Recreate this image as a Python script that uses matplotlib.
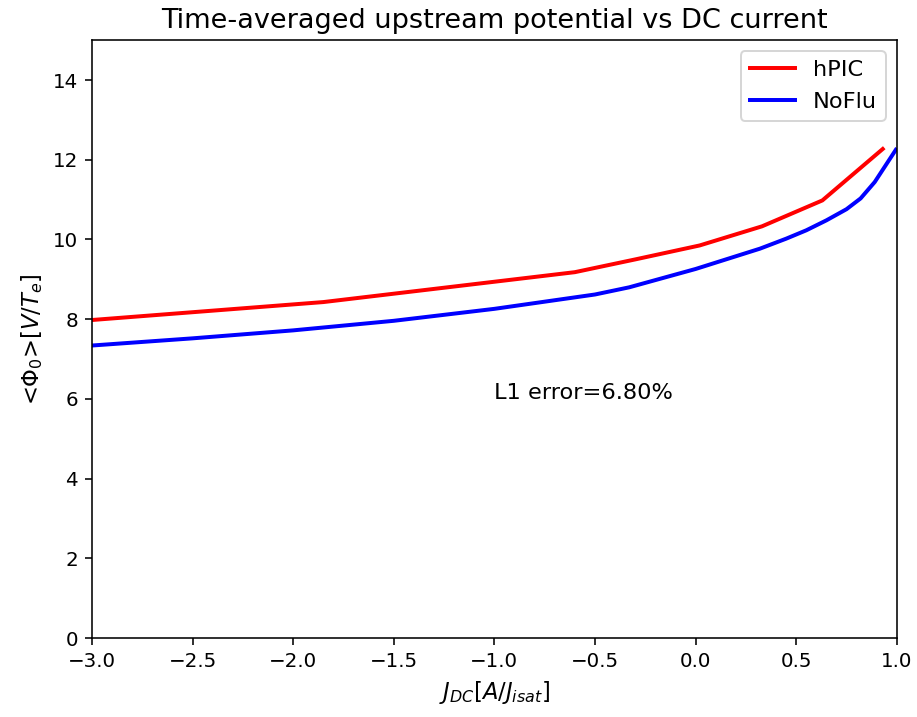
import matplotlib
matplotlib.use("Agg")
import matplotlib.pyplot as plt

# hPIC result (upstream potential, normalised)
j_hpic = [-3.0, -1.85, -0.6, -0.3, 0.02, 0.33, 0.63, 0.93]
phi_hpic = [7.98, 8.43, 9.18, 9.50, 9.85, 10.33, 10.98, 12.27]

# model without fluctuations
j_noflu = [-3.0, -2.5, -2.0, -1.5, -1.0, -0.5, -0.33, 0.0, 0.32, 0.45,
           0.55, 0.65, 0.75, 0.82, 0.89, 0.995]
phi_noflu = [7.34, 7.52, 7.72, 7.96, 8.26, 8.62, 8.80, 9.26, 9.77, 10.02,
             10.23, 10.48, 10.76, 11.03, 11.44, 12.25]

l1_error = 6.80

fig = plt.figure(figsize=(917 / 143, 717 / 143), dpi=143)
ax = fig.add_axes([0.1003, 0.110, 0.8777, 0.834])

ax.plot(j_hpic, phi_hpic, color='red', linewidth=2, label='hPIC')
ax.plot(j_noflu, phi_noflu, color='blue', linewidth=2, label='NoFlu')

ax.set_xlim(-3.0, 1.0)
ax.set_ylim(0, 15)
ax.set_yticks(range(0, 15, 2))
ax.set_xticks([-3.0, -2.5, -2.0, -1.5, -1.0, -0.5, 0.0, 0.5, 1.0])

ax.text(-1.0, 6.0, 'L1 error=%.2f%%' % l1_error, fontsize=11.3)

ax.set_xlabel(r'$J_{DC}[A/J_{isat}]$', fontsize=11.4)
ax.set_ylabel(r'<$\Phi_0$>$[V/T_e]$', fontsize=11.4)
ax.set_title('Time-averaged upstream potential vs DC current', fontsize=13.7)
ax.legend(loc='upper right', fontsize=11.3)

fig.savefig('out.png', dpi=143)
